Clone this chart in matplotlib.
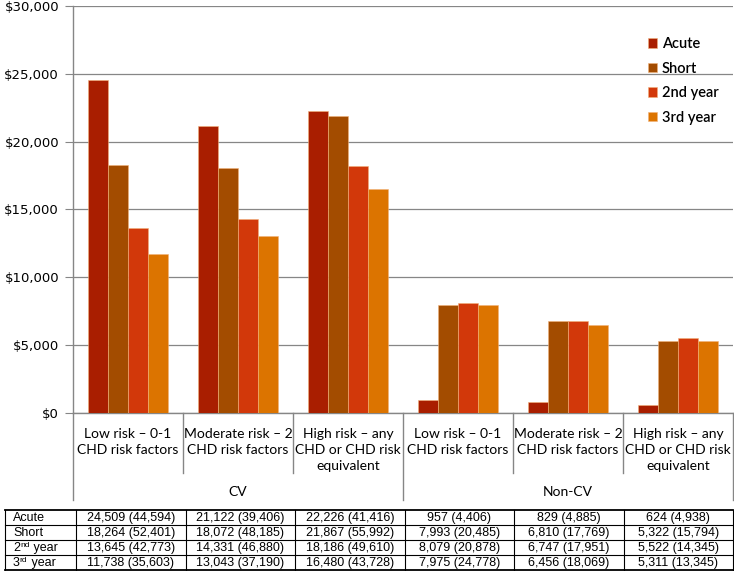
import numpy as np
import matplotlib
matplotlib.use('Agg')
import matplotlib.pyplot as plt
from matplotlib.ticker import FuncFormatter
from matplotlib.transforms import offset_copy

categories = ['Low risk \u2013 0-1\nCHD risk factors',
              'Moderate risk \u2013 2\nCHD risk factors',
              'High risk \u2013 any\nCHD or CHD risk\nequivalent'] * 2
groups = ['CV', 'Non-CV']
series = ['Acute', 'Short', '2nd year', '3rd year']
# table row labels: (text, superscript, rest)
row_labels = [('Acute', '', ''), ('Short', '', ''), ('2', 'nd', ' year'), ('3', 'rd', ' year')]
acute = [24509, 21122, 22226, 957, 829, 624]
short = [18264, 18072, 21867, 7993, 6810, 5322]
year2 = [13645, 14331, 18186, 8079, 6747, 5522]
year3 = [11738, 13043, 16480, 7975, 6456, 5311]
acute_sd = [44594, 39406, 41416, 4406, 4885, 4938]
short_sd = [52401, 48185, 55992, 20485, 17769, 15794]
year2_sd = [42773, 46880, 49610, 20878, 17951, 14345]
year3_sd = [35603, 37190, 43728, 24778, 18069, 13345]
colors = ['#A91E00', '#A34C00', '#D2380A', '#DC7400']

values = [acute, short, year2, year3]
sds = [acute_sd, short_sd, year2_sd, year3_sd]

W, H = 734, 571
fig = plt.figure(figsize=(W / 100, H / 100), dpi=100)
x0, x1, ytop, ybot = 73, 733, 6, 413
ax = fig.add_axes([x0 / W, (H - ybot) / H, (x1 - x0) / W, (ybot - ytop) / H])

n = len(categories)
x = np.arange(n) + 0.5
bw = 0.18
for j, (vals, c, name) in enumerate(zip(values, colors, series)):
    ax.bar(x + (j - 1.5) * bw, vals, bw, color=c, edgecolor='#F2B27A',
           linewidth=0.4, label=name, zorder=3)

ax.set_xlim(0, n)
ax.set_ylim(0, 30000)
ax.set_yticks(np.arange(0, 30001, 5000))
ax.yaxis.set_major_formatter(FuncFormatter(lambda v, p: f'${v:,.0f}'))
ax.tick_params(axis='y', length=6, color='#868686', labelsize=9.5, pad=4)
for t in ax.get_yticklabels():
    t.set_fontfamily('DejaVu Sans')
ax.set_xticks([])
ax.grid(axis='y', color='#868686', linewidth=0.9, zorder=0)
ax.set_axisbelow(True)
for s in ['top', 'right']:
    ax.spines[s].set_visible(False)
for s in ['left', 'bottom']:
    ax.spines[s].set_color('#868686')
    ax.spines[s].set_linewidth(1.0)

ax.legend(loc='upper left', bbox_to_anchor=((635 - x0) / (x1 - x0), (ybot - 24) / (ybot - ytop)),
          frameon=False, handlelength=0.6, handleheight=0.6, handletextpad=0.35,
          labelspacing=0.72, prop={'family': 'Lato', 'size': 10.5, 'weight': 'semibold'})

# helper: pixel y below axis -> axes fraction
def fy(py):
    return (ybot - py) / (ybot - ytop)

trans = ax.get_xaxis_transform()
for i, lab in enumerate(categories):
    ax.text(x[i], fy(427.5), lab, transform=trans, ha='center', va='top',
            fontsize=10, family='Lato', linespacing=1.4, clip_on=False)
for k in range(n + 1):
    end = 500 if k % 3 == 0 else 473
    ax.plot([k, k], [0, fy(end)], transform=trans, color='#868686',
            linewidth=1.0, clip_on=False)
for g, name in enumerate(groups):
    ax.text(g * 3 + 1.5, fy(492), name, transform=trans, ha='center',
            va='center', fontsize=10, family='Lato', clip_on=False)

# table below chart
tax = fig.add_axes([0, 0, 1, 1])
tax.set_xlim(0, W)
tax.set_ylim(H, 0)
tax.axis('off')
row_top = 509.5
rh = 15
col_edges = [5] + [76 + 109.5 * k for k in range(n + 1)]
nrows = len(series)
for r in range(nrows + 1):
    yy = row_top + r * rh
    tax.plot([col_edges[0], col_edges[-1]], [yy, yy], color='black',
             linewidth=1.3 if r in (0, nrows) else 0.8)
for cx in col_edges:
    tax.plot([cx, cx], [row_top, row_top + nrows * rh], color='black', linewidth=0.8)

renderer = fig.canvas.get_renderer()
tfont = dict(fontsize=9, family='Liberation Sans')
for r in range(nrows):
    yb = row_top + (r + 1) * rh - 3.5
    main, sup, rest = row_labels[r]
    t = tax.text(13, yb, main, ha='left', va='baseline', **tfont)
    if sup:
        wpx = t.get_window_extent(renderer).width
        tr = offset_copy(tax.transData, fig=fig, x=wpx * 72 / fig.dpi, y=3.2, units='points')
        s = tax.text(13, yb, sup, ha='left', va='baseline', transform=tr,
                     fontsize=6, family='Liberation Sans')
        wsup = s.get_window_extent(renderer).width
        tr2 = offset_copy(tax.transData, fig=fig, x=(wpx + wsup) * 72 / fig.dpi,
                          y=0, units='points')
        tax.text(13, yb, rest, ha='left', va='baseline', transform=tr2, **tfont)
    for i in range(n):
        tax.text((col_edges[i + 1] + col_edges[i + 2]) / 2, yb,
                 f'{values[r][i]:,} ({sds[r][i]:,})', ha='center', va='baseline',
                 **tfont)

fig.savefig('out.png', dpi=100)
